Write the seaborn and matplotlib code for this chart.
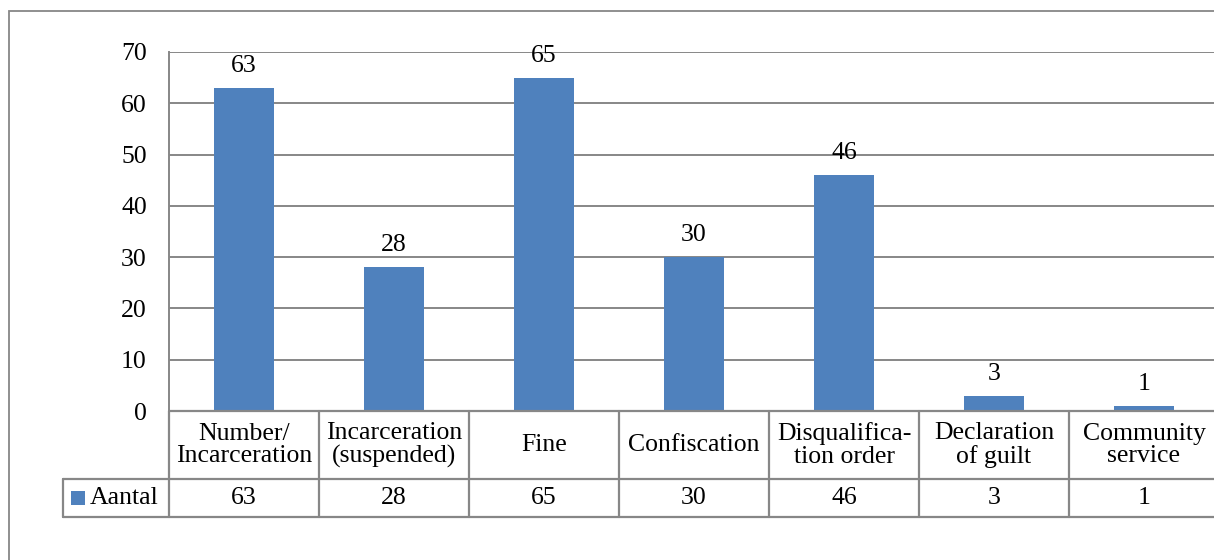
import matplotlib

matplotlib.use("Agg")
import matplotlib.pyplot as plt
import matplotlib.transforms as mtransforms
from matplotlib.patches import Rectangle
import seaborn as sns

categories = [
    "Number/\nIncarceration",
    "Incarceration\n(suspended)",
    "Fine",
    "Confiscation",
    "Disqualifica-\ntion order",
    "Declaration\nof guilt",
    "Community\nservice",
]
values = [63, 28, 65, 30, 46, 3, 1]
series_name = "Aantal"
yticks = [0, 10, 20, 30, 40, 50, 60, 70]

BAR = "#4F81BD"
LINE = "#878787"
FS = 18.5

sns.set_theme(style="white")
plt.rcParams["font.family"] = ["Liberation Serif", "DejaVu Serif"]
plt.rcParams["text.color"] = "black"
plt.rcParams["ytick.color"] = "black"

W, H = 1214, 560
fig = plt.figure(figsize=(W / 100, H / 100), dpi=100)

# plot area in pixel terms (top-left origin)
px_left, px_top, px_bottom = 169, 52, 411
px_cat = 150
ax = fig.add_axes([px_left / W, 1 - px_bottom / H,
                   px_cat * len(categories) / W, (px_bottom - px_top) / H])

sns.barplot(x=list(range(len(categories))), y=values, color=BAR, saturation=1,
            width=0.4, linewidth=0, ax=ax)
ax.set_xlim(-0.5, len(categories) - 0.5)
ax.set_ylim(0, 70)
ax.set_yticks(yticks)
ax.set_yticklabels([str(t) for t in yticks], fontsize=FS, color="black")
ax.set_xticks([])
ax.tick_params(axis="y", length=0, pad=16)
ax.yaxis.grid(True, color=LINE, linewidth=1.4)
ax.set_axisbelow(True)
for s in ["top", "right", "bottom"]:
    ax.spines[s].set_visible(False)
ax.spines["left"].set_color(LINE)
ax.spines["left"].set_linewidth(1.4)

for c in ax.containers:
    ax.bar_label(c, labels=[str(v) for v in values], padding=8, fontsize=FS,
                 color="black")

# data table below the axis
h_ax = px_bottom - px_top
y_hdr = -(479 - px_bottom) / h_ax
y_bot = -(517 - px_bottom) / h_ax
trans = mtransforms.blended_transform_factory(ax.transData, ax.transAxes)
n = len(categories)
kw = dict(color=LINE, linewidth=1.6, clip_on=False, transform=trans)
left_lbl = -0.5 - (px_left - 63) / px_cat
ax.plot([-0.5, n - 0.5 + 0.2], [0, 0], **kw)
ax.plot([left_lbl, n - 0.5 + 0.2], [y_hdr, y_hdr], **kw)
ax.plot([left_lbl, n - 0.5 + 0.2], [y_bot, y_bot], **kw)
ax.plot([left_lbl, left_lbl], [y_hdr, y_bot], **kw)
for i in range(n + 1):
    ax.plot([i - 0.5, i - 0.5], [0, y_bot], **kw)

for i, (cat, v) in enumerate(zip(categories, values)):
    ax.text(i, y_hdr / 2, cat, transform=trans, ha="center", va="center",
            fontsize=FS, linespacing=1.05, color="black")
    ax.text(i, (y_hdr + y_bot) / 2, str(v), transform=trans, ha="center",
            va="center", fontsize=FS, color="black")

# legend key inside the row label cell
y_mid = (y_hdr + y_bot) / 2
key_w = 14 / px_cat
key_x = left_lbl + 8 / px_cat
ax.add_patch(Rectangle((key_x, y_mid - 7 / h_ax), key_w, 14 / h_ax,
                       facecolor=BAR, edgecolor="none", clip_on=False,
                       transform=trans))
ax.text(key_x + key_w + 5 / px_cat, y_mid, series_name, transform=trans,
        ha="left", va="center", fontsize=FS, color="black")

# outer chart frame
fig.patches.append(Rectangle((9 / W, -0.1), 1.2, 1 - 11 / H + 0.1,
                             transform=fig.transFigure, fill=False,
                             edgecolor=LINE, linewidth=1.3))

fig.savefig("out.png", dpi=100)
